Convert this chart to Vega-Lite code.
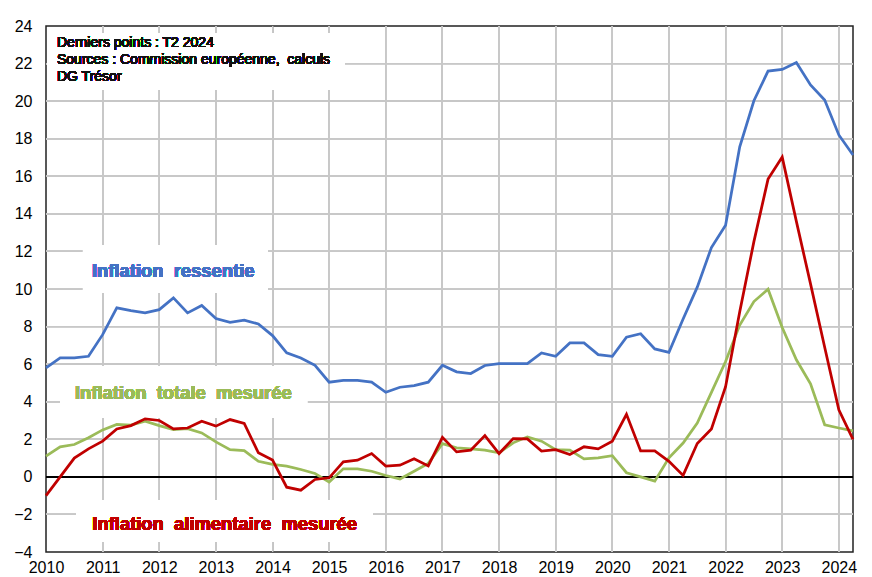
{
  "$schema": "https://vega.github.io/schema/vega-lite/v6.json",
  "width": 807,
  "height": 526,
  "autosize": "none",
  "padding": {"left": 46, "top": 26, "right": 19, "bottom": 25},
  "background": "white",
  "config": {
    "view": {"stroke": "#222222", "strokeWidth": 1.5},
    "font": "Liberation Sans",
    "axis": {
      "labelFont": "Liberation Sans",
      "labelFontSize": 16,
      "labelColor": "black",
      "domain": false,
      "title": null
    }
  },
  "data": {
    "values": [
      {"t": 2010.00, "ressentie": 5.8, "totale": 1.1, "alimentaire": -1.0},
      {"t": 2010.25, "ressentie": 6.33, "totale": 1.6, "alimentaire": 0.0},
      {"t": 2010.50, "ressentie": 6.33, "totale": 1.72, "alimentaire": 1.0},
      {"t": 2010.75, "ressentie": 6.42, "totale": 2.08, "alimentaire": 1.49},
      {"t": 2011.00, "ressentie": 7.57, "totale": 2.5, "alimentaire": 1.9},
      {"t": 2011.25, "ressentie": 9.0, "totale": 2.79, "alimentaire": 2.55},
      {"t": 2011.50, "ressentie": 8.85, "totale": 2.75, "alimentaire": 2.73},
      {"t": 2011.75, "ressentie": 8.73, "totale": 2.96, "alimentaire": 3.09},
      {"t": 2012.00, "ressentie": 8.9, "totale": 2.73, "alimentaire": 3.0},
      {"t": 2012.25, "ressentie": 9.53, "totale": 2.52, "alimentaire": 2.55},
      {"t": 2012.50, "ressentie": 8.73, "totale": 2.57, "alimentaire": 2.6},
      {"t": 2012.75, "ressentie": 9.12, "totale": 2.34, "alimentaire": 2.96},
      {"t": 2013.00, "ressentie": 8.43, "totale": 1.86, "alimentaire": 2.7},
      {"t": 2013.25, "ressentie": 8.23, "totale": 1.45, "alimentaire": 3.05},
      {"t": 2013.50, "ressentie": 8.34, "totale": 1.4, "alimentaire": 2.84},
      {"t": 2013.75, "ressentie": 8.14, "totale": 0.83, "alimentaire": 1.28},
      {"t": 2014.00, "ressentie": 7.52, "totale": 0.66, "alimentaire": 0.89},
      {"t": 2014.25, "ressentie": 6.6, "totale": 0.57, "alimentaire": -0.55},
      {"t": 2014.50, "ressentie": 6.33, "totale": 0.39, "alimentaire": -0.71},
      {"t": 2014.75, "ressentie": 5.94, "totale": 0.18, "alimentaire": -0.14},
      {"t": 2015.00, "ressentie": 5.04, "totale": -0.28, "alimentaire": -0.05},
      {"t": 2015.25, "ressentie": 5.13, "totale": 0.43, "alimentaire": 0.8},
      {"t": 2015.50, "ressentie": 5.13, "totale": 0.43, "alimentaire": 0.89},
      {"t": 2015.75, "ressentie": 5.04, "totale": 0.3, "alimentaire": 1.24},
      {"t": 2016.00, "ressentie": 4.5, "totale": 0.07, "alimentaire": 0.57},
      {"t": 2016.25, "ressentie": 4.77, "totale": -0.11, "alimentaire": 0.62},
      {"t": 2016.50, "ressentie": 4.86, "totale": 0.3, "alimentaire": 0.96},
      {"t": 2016.75, "ressentie": 5.04, "totale": 0.72, "alimentaire": 0.58},
      {"t": 2017.00, "ressentie": 5.94, "totale": 1.77, "alimentaire": 2.1},
      {"t": 2017.25, "ressentie": 5.59, "totale": 1.54, "alimentaire": 1.33},
      {"t": 2017.50, "ressentie": 5.5, "totale": 1.49, "alimentaire": 1.42},
      {"t": 2017.75, "ressentie": 5.93, "totale": 1.42, "alimentaire": 2.2},
      {"t": 2018.00, "ressentie": 6.03, "totale": 1.28, "alimentaire": 1.24},
      {"t": 2018.25, "ressentie": 6.03, "totale": 1.81, "alimentaire": 2.04},
      {"t": 2018.50, "ressentie": 6.03, "totale": 2.13, "alimentaire": 2.02},
      {"t": 2018.75, "ressentie": 6.6, "totale": 1.9, "alimentaire": 1.37},
      {"t": 2019.00, "ressentie": 6.42, "totale": 1.45, "alimentaire": 1.45},
      {"t": 2019.25, "ressentie": 7.13, "totale": 1.42, "alimentaire": 1.19},
      {"t": 2019.50, "ressentie": 7.13, "totale": 0.96, "alimentaire": 1.6},
      {"t": 2019.75, "ressentie": 6.51, "totale": 1.01, "alimentaire": 1.49},
      {"t": 2020.00, "ressentie": 6.42, "totale": 1.13, "alimentaire": 1.9},
      {"t": 2020.25, "ressentie": 7.43, "totale": 0.22, "alimentaire": 3.33},
      {"t": 2020.50, "ressentie": 7.62, "totale": 0.0, "alimentaire": 1.38},
      {"t": 2020.75, "ressentie": 6.81, "totale": -0.23, "alimentaire": 1.38},
      {"t": 2021.00, "ressentie": 6.63, "totale": 1.01, "alimentaire": 0.83},
      {"t": 2021.25, "ressentie": 8.4, "totale": 1.8, "alimentaire": 0.08},
      {"t": 2021.50, "ressentie": 10.1, "totale": 2.86, "alimentaire": 1.78},
      {"t": 2021.75, "ressentie": 12.21, "totale": 4.5, "alimentaire": 2.55},
      {"t": 2022.00, "ressentie": 13.4, "totale": 6.14, "alimentaire": 4.8},
      {"t": 2022.25, "ressentie": 17.57, "totale": 8.08, "alimentaire": 8.79},
      {"t": 2022.50, "ressentie": 20.02, "totale": 9.33, "alimentaire": 12.52},
      {"t": 2022.75, "ressentie": 21.6, "totale": 9.99, "alimentaire": 15.85},
      {"t": 2023.00, "ressentie": 21.69, "totale": 7.95, "alimentaire": 17.02},
      {"t": 2023.25, "ressentie": 22.05, "totale": 6.23, "alimentaire": 13.6},
      {"t": 2023.50, "ressentie": 20.86, "totale": 4.95, "alimentaire": 10.27},
      {"t": 2023.75, "ressentie": 20.06, "totale": 2.77, "alimentaire": 6.9},
      {"t": 2024.00, "ressentie": 18.2, "totale": 2.6, "alimentaire": 3.57},
      {"t": 2024.25, "ressentie": 17.13, "totale": 2.45, "alimentaire": 2.0}
    ]
  },
  "encoding": {
    "x": {
      "type": "quantitative",
      "scale": {"domain": [2010, 2024.25], "nice": false, "zero": false},
      "axis": {
        "grid": false,
        "tickSize": 0,
        "values": [2010, 2011, 2012, 2013, 2014, 2015, 2016, 2017, 2018, 2019, 2020, 2021, 2022, 2023, 2024],
        "format": "d",
        "labelFlush": false,
        "labelPadding": 7,
        "labelOverlap": false
      }
    },
    "y": {
      "type": "quantitative",
      "scale": {"domain": [-4, 24], "nice": false, "zero": false},
      "axis": {
        "grid": false,
        "tickSize": 0,
        "values": [-4, -2, 0, 2, 4, 6, 8, 10, 12, 14, 16, 18, 20, 22, 24],
        "labelPadding": 14,
        "labelOverlap": false
      }
    }
  },
  "layer": [
    {"mark": {"type": "rule", "color": "#C8C8C8", "strokeWidth": 1}, "encoding": {"x": {"datum": 2011}}},
    {"mark": {"type": "rule", "color": "#C8C8C8", "strokeWidth": 1}, "encoding": {"x": {"datum": 2012}}},
    {"mark": {"type": "rule", "color": "#C8C8C8", "strokeWidth": 1}, "encoding": {"x": {"datum": 2013}}},
    {"mark": {"type": "rule", "color": "#C8C8C8", "strokeWidth": 1}, "encoding": {"x": {"datum": 2014}}},
    {"mark": {"type": "rule", "color": "#C8C8C8", "strokeWidth": 1}, "encoding": {"x": {"datum": 2015}}},
    {"mark": {"type": "rule", "color": "#C8C8C8", "strokeWidth": 1}, "encoding": {"x": {"datum": 2016}}},
    {"mark": {"type": "rule", "color": "#C8C8C8", "strokeWidth": 1}, "encoding": {"x": {"datum": 2017}}},
    {"mark": {"type": "rule", "color": "#C8C8C8", "strokeWidth": 1}, "encoding": {"x": {"datum": 2018}}},
    {"mark": {"type": "rule", "color": "#C8C8C8", "strokeWidth": 1}, "encoding": {"x": {"datum": 2019}}},
    {"mark": {"type": "rule", "color": "#C8C8C8", "strokeWidth": 1}, "encoding": {"x": {"datum": 2020}}},
    {"mark": {"type": "rule", "color": "#C8C8C8", "strokeWidth": 1}, "encoding": {"x": {"datum": 2021}}},
    {"mark": {"type": "rule", "color": "#C8C8C8", "strokeWidth": 1}, "encoding": {"x": {"datum": 2022}}},
    {"mark": {"type": "rule", "color": "#C8C8C8", "strokeWidth": 1}, "encoding": {"x": {"datum": 2023}}},
    {"mark": {"type": "rule", "color": "#C8C8C8", "strokeWidth": 1}, "encoding": {"x": {"datum": 2024}}},
    {"mark": {"type": "rule", "color": "#C8C8C8", "strokeWidth": 1}, "encoding": {"y": {"datum": -2}}},
    {"mark": {"type": "rule", "color": "#C8C8C8", "strokeWidth": 1}, "encoding": {"y": {"datum": 2}}},
    {"mark": {"type": "rule", "color": "#C8C8C8", "strokeWidth": 1}, "encoding": {"y": {"datum": 4}}},
    {"mark": {"type": "rule", "color": "#C8C8C8", "strokeWidth": 1}, "encoding": {"y": {"datum": 6}}},
    {"mark": {"type": "rule", "color": "#C8C8C8", "strokeWidth": 1}, "encoding": {"y": {"datum": 8}}},
    {"mark": {"type": "rule", "color": "#C8C8C8", "strokeWidth": 1}, "encoding": {"y": {"datum": 10}}},
    {"mark": {"type": "rule", "color": "#C8C8C8", "strokeWidth": 1}, "encoding": {"y": {"datum": 12}}},
    {"mark": {"type": "rule", "color": "#C8C8C8", "strokeWidth": 1}, "encoding": {"y": {"datum": 14}}},
    {"mark": {"type": "rule", "color": "#C8C8C8", "strokeWidth": 1}, "encoding": {"y": {"datum": 16}}},
    {"mark": {"type": "rule", "color": "#C8C8C8", "strokeWidth": 1}, "encoding": {"y": {"datum": 18}}},
    {"mark": {"type": "rule", "color": "#C8C8C8", "strokeWidth": 1}, "encoding": {"y": {"datum": 20}}},
    {"mark": {"type": "rule", "color": "#C8C8C8", "strokeWidth": 1}, "encoding": {"y": {"datum": 22}}},
    {
      "mark": {"type": "rect", "fill": "white"},
      "encoding": {
        "x": {"datum": 2010.02}, "x2": {"datum": 2015.28},
        "y": {"datum": 23.62}, "y2": {"datum": 20.59}
      }
    },
    {
      "mark": {"type": "rect", "fill": "white"},
      "encoding": {
        "x": {"datum": 2010.653}, "x2": {"datum": 2013.92},
        "y": {"datum": 12.34}, "y2": {"datum": 9.79}
      }
    },
    {
      "mark": {"type": "rect", "fill": "white"},
      "encoding": {
        "x": {"datum": 2010.247}, "x2": {"datum": 2014.61},
        "y": {"datum": 5.9}, "y2": {"datum": 3.13}
      }
    },
    {
      "mark": {"type": "rect", "fill": "white"},
      "encoding": {
        "x": {"datum": 2010.53}, "x2": {"datum": 2015.77},
        "y": {"datum": -1.23}, "y2": {"datum": -3.46}
      }
    },
    {
      "mark": {"type": "rule", "color": "black", "strokeWidth": 1},
      "encoding": {"y": {"datum": 0}}
    },
    {
      "transform": [{"fold": ["ressentie", "totale", "alimentaire"], "as": ["serie", "v"]}],
      "mark": {"type": "line", "strokeWidth": 2.75},
      "encoding": {
        "x": {"field": "t"},
        "y": {"field": "v"},
        "color": {
          "field": "serie",
          "type": "nominal",
          "scale": {"domain": ["ressentie", "totale", "alimentaire"], "range": ["#4472C4", "#9BBB59", "#C00000"]},
          "legend": null
        }
      }
    },
    {
      "mark": {
        "type": "text",
        "text": ["Derniers points : T2 2024", "Sources : Commission européenne,\u00a0 calculs", "DG Trésor"],
        "align": "left",
        "baseline": "alphabetic",
        "fontSize": 14,
        "lineHeight": 17,
        "color": "#111111",
        "font": "Liberation Sans"
      },
      "encoding": {"x": {"datum": 2010.194}, "y": {"datum": 22.86}}
    },
    {
      "mark": {"type": "text", "text": "Inflation\u00a0 ressentie", "align": "left", "baseline": "alphabetic", "fontSize": 18.4, "fontWeight": "bold", "color": "#4472C4", "font": "Liberation Sans"},
      "encoding": {"x": {"datum": 2010.812}, "y": {"datum": 10.64}}
    },
    {
      "mark": {"type": "text", "text": "Inflation\u00a0 totale\u00a0 mesurée", "align": "left", "baseline": "alphabetic", "fontSize": 18.4, "fontWeight": "bold", "color": "#9BBB59", "font": "Liberation Sans"},
      "encoding": {"x": {"datum": 2010.512}, "y": {"datum": 4.146}}
    },
    {
      "mark": {"type": "text", "text": "Inflation\u00a0 alimentaire\u00a0 mesurée", "align": "left", "baseline": "alphabetic", "fontSize": 18.4, "fontWeight": "bold", "color": "#C00000", "font": "Liberation Sans"},
      "encoding": {"x": {"datum": 2010.818}, "y": {"datum": -2.826}}
    }
  ]
}
